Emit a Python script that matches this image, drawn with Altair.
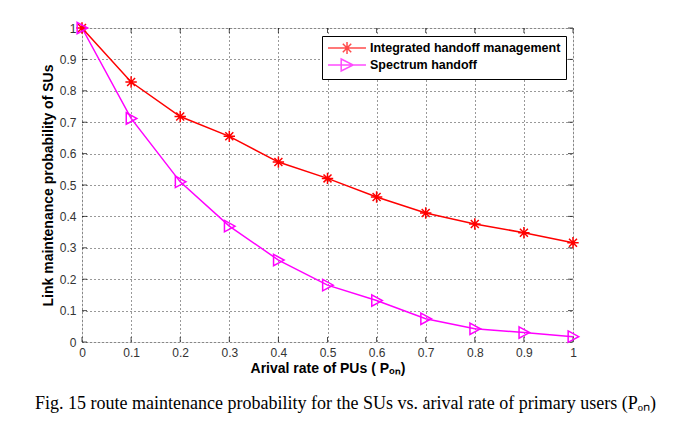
import altair as alt
import pandas as pd

# ---- data ----
x_vals = [0, 0.1, 0.2, 0.3, 0.4, 0.5, 0.6, 0.7, 0.8, 0.9, 1.0]
integrated = [1.0, 0.828, 0.718, 0.655, 0.573, 0.521, 0.462, 0.411, 0.376, 0.348, 0.316]
spectrum = [1.0, 0.712, 0.510, 0.369, 0.261, 0.181, 0.132, 0.074, 0.042, 0.030, 0.017]
series_names = ["Integrated handoff management", "Spectrum handoff"]
series_colors = ["#ff0000", "#ff00ff"]
x_ticks = [0, 0.1, 0.2, 0.3, 0.4, 0.5, 0.6, 0.7, 0.8, 0.9, 1]
y_ticks = [0, 0.1, 0.2, 0.3, 0.4, 0.5, 0.6, 0.7, 0.8, 0.9, 1]

x_title = "Arival rate of PUs ( Pₒₙ)"
y_title = "Link maintenance probability of SUs"
caption = "Fig. 15 route maintenance probability for the SUs vs. arival rate of primary users (Pₒₙ)"

rows = []
for name, vals in zip(series_names, [integrated, spectrum]):
    for xv, yv in zip(x_vals, vals):
        rows.append({"x": xv, "y": yv, "series": name})
df = pd.DataFrame(rows)

W, H = 491, 314

star = "M0,-1L0,1M-1,0L1,0M-0.7,-0.7L0.7,0.7M-0.7,0.7L0.7,-0.7"
tri = "M-0.85,-1L1,0L-0.85,1Z"
# legend symbols: unit = 6px, line 38px long, marker in the middle
star_leg = "M-1,0L5.33,0M2.17,-1L2.17,1M1.17,0L3.17,0M1.47,-0.7L2.87,0.7M1.47,0.7L2.87,-0.7"
tri_leg = "M-1,0L5.33,0M1.2,-1L3.2,0L1.2,1Z"

x_scale = alt.Scale(domain=[0, 1], nice=False, zero=False)
y_scale = alt.Scale(domain=[0, 1], nice=False, zero=False)

x_axis = alt.Axis(values=x_ticks, format="~g", title=x_title, grid=True,
                  gridDash=[1, 3], gridColor="#333", gridWidth=1, ticks=False,
                  domain=False, labelFont="Liberation Sans", labelFontSize=12,
                  labelColor="#333", labelPadding=5, labelFlush=False,
                  titleFont="Liberation Sans", titleFontSize=14, titleFontWeight="bold",
                  titleColor="black", titlePadding=3)
y_axis = alt.Axis(values=y_ticks, format="~g", title=y_title, grid=True,
                  gridDash=[1, 3], gridColor="#333", gridWidth=1, ticks=False,
                  domain=False, labelFont="Liberation Sans", labelFontSize=12,
                  labelColor="#333", labelPadding=6, labelFlush=False,
                  titleFont="Liberation Sans", titleFontSize=14, titleFontWeight="bold",
                  titleColor="black", titlePadding=4)

def X():
    return alt.X("x:Q", scale=x_scale, axis=x_axis)

def Y():
    return alt.Y("y:Q", scale=y_scale, axis=y_axis)

color_enc = alt.Color("series:N", scale=alt.Scale(domain=series_names, range=series_colors), legend=None)

base = alt.Chart(df)
lines = base.mark_line(strokeWidth=1.5).encode(x=X(), y=Y(), color=color_enc)
points = base.mark_point(filled=False, strokeWidth=1.5, size=130, opacity=1).encode(
    x=X(), y=Y(), color=color_enc,
    shape=alt.Shape("series:N", scale=alt.Scale(domain=series_names, range=[star, tri]), legend=None))

leg = alt.Legend(
    title=None, orient="none", legendX=240, legendY=8, strokeColor="black",
    fillColor="white", padding=5, symbolSize=144, symbolStrokeWidth=1.5,
    labelFont="Liberation Sans", labelFontSize=12.5, labelFontWeight="bold",
    labelColor="black", labelOffset=29, rowPadding=-1, cornerRadius=0, labelLimit=400)

legend_layer = base.transform_filter("false").mark_point(filled=False, strokeWidth=1.5).encode(
    x=X(), y=Y(),
    color=alt.Color("series:N", scale=alt.Scale(domain=series_names, range=series_colors), legend=leg),
    shape=alt.Shape("series:N", scale=alt.Scale(domain=series_names, range=[star_leg, tri_leg]), legend=leg),
)

xt = pd.DataFrame({"x": x_ticks})
yt = pd.DataFrame({"y": y_ticks})
tick_bottom = alt.Chart(xt).mark_tick(color="black", size=5, thickness=1, orient="vertical").encode(x=X(), y=alt.value(H - 2.5))
tick_top = alt.Chart(xt).mark_tick(color="black", size=5, thickness=1, orient="vertical").encode(x=X(), y=alt.value(2.5))
tick_left = alt.Chart(yt).mark_tick(color="black", size=5, thickness=1, orient="horizontal").encode(y=Y(), x=alt.value(2.5))
tick_right = alt.Chart(yt).mark_tick(color="black", size=5, thickness=1, orient="horizontal").encode(y=Y(), x=alt.value(W - 2.5))

chart = alt.layer(tick_bottom, tick_top, tick_left, tick_right, lines, points, legend_layer).resolve_scale(
    color="independent", shape="independent"
).properties(
    width=W, height=H,
    autosize=alt.AutoSizeParams(type="none"),
    padding={"left": 74, "top": 20, "right": 100, "bottom": 80},
    title=alt.TitleParams(caption, orient="bottom", anchor="middle", dx=18, offset=20,
                          font="Liberation Serif", fontSize=18, fontWeight="normal", color="black"),
).configure_view(stroke="black", strokeWidth=1).configure(background="white")

chart.save("out.html", embed_options={"renderer": "svg", "actions": False})
